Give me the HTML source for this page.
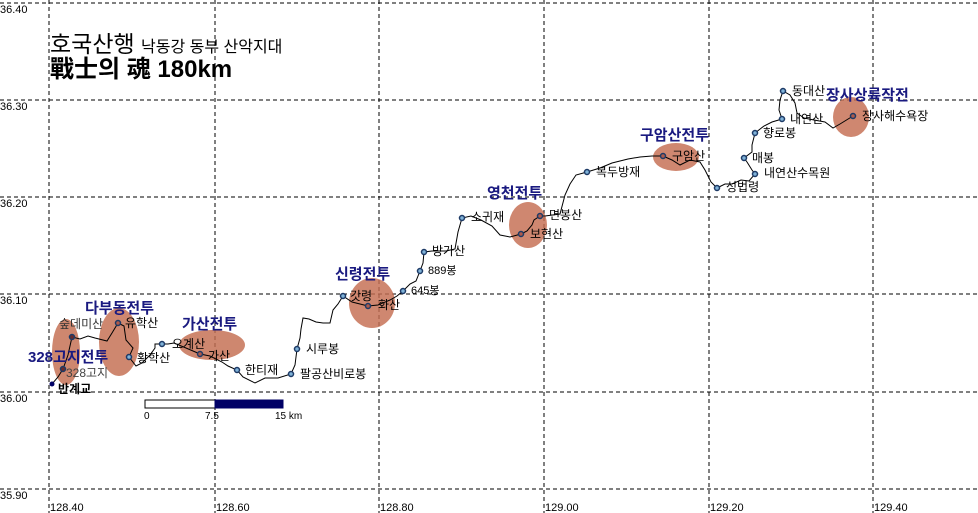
<!DOCTYPE html>
<html><head><meta charset="utf-8"><style>
body{margin:0;background:#fff;}
svg{display:block;font-family:"Liberation Sans","Noto Sans CJK KR",sans-serif;}
</style></head><body>
<svg width="978" height="513" viewBox="0 0 978 513">
<rect width="978" height="513" fill="#fff"/>
<g stroke="#000" stroke-width="1" stroke-dasharray="4,3">
<line x1="49" y1="0" x2="49" y2="513"/><line x1="215" y1="0" x2="215" y2="513"/>
<line x1="379" y1="0" x2="379" y2="513"/><line x1="544" y1="0" x2="544" y2="513"/>
<line x1="709" y1="0" x2="709" y2="513"/><line x1="873" y1="0" x2="873" y2="513"/>
<line x1="0" y1="3" x2="978" y2="3"/><line x1="0" y1="100" x2="978" y2="100"/>
<line x1="0" y1="197" x2="978" y2="197"/><line x1="0" y1="294" x2="978" y2="294"/>
<line x1="0" y1="392" x2="978" y2="392"/><line x1="0" y1="489" x2="978" y2="489"/>
</g>
<g font-size="11" fill="#000">
<text x="0" y="13">36.40</text><text x="0" y="110">36.30</text><text x="0" y="207">36.20</text>
<text x="0" y="304">36.10</text><text x="0" y="402">36.00</text><text x="0" y="499">35.90</text>
<text x="50" y="511">128.40</text><text x="216" y="511">128.60</text><text x="380" y="511">128.80</text>
<text x="545" y="511">129.00</text><text x="710" y="511">129.20</text><text x="874" y="511">129.40</text>
</g>
<text x="50" y="52" font-size="23">호국산행 <tspan font-size="16">낙동강 동부 산악지대</tspan></text>
<text x="50" y="77" font-size="24" font-weight="bold">戰士의 魂 180km</text>
<g fill="#c46d50" opacity="0.82">
<ellipse cx="66" cy="352" rx="14" ry="33"/>
<ellipse cx="119" cy="342" rx="20" ry="34"/>
<ellipse cx="212" cy="345" rx="33" ry="15"/>
<ellipse cx="372" cy="303" rx="23" ry="25"/>
<ellipse cx="528" cy="225" rx="19" ry="23"/>
<ellipse cx="676" cy="157" rx="23" ry="14"/>
<ellipse cx="851" cy="117" rx="18" ry="20"/>
</g>
<polyline fill="none" stroke="#000" stroke-width="1" points="52,384 58,377 63,369 68,355 72,337 80,339 88,336 95,338 107,341 112,333 118,323 124,326 126,340 133,348 129,357 136,366 142,363 150,355 155,348 155,344 162,344 168,344 174,343 186,348 200,354 210,356 222,362 228,366 237,370 243,377 255,383 265,378 278,378 291,374 295,365 297,349 300,338 301,329 303,318 309,319 316,322 323,323 330,323 333,310 338,304 343,296 352,302 360,304 368,306 378,305 390,300 397,296 403,291 410,284 416,281 420,271 423,263 424,252 432,251 446,251 455,249 458,232 462,218 471,216 481,220 492,226 500,235 510,237 521,234 527,231 532,225 534,220 540,216 545,216 560,214 565,195 570,184 576,175 587,172 600,168 612,163 628,159 640,157 652,156 663,156 672,160 680,165 690,160 700,162 705,170 711,182 717,188 725,184 732,184 741,180 749,181 755,174 752,170 747,162 744,158 752,152 752,145 755,133 764,126 772,122 782,119 779,110 780,100 783,91 790,95 795,103 797,113 804,118 814,120 825,122 833,128 840,124 853,116"/>
<g stroke="#1d3a66" stroke-width="1.5" fill="#7fb2d8">
<circle cx="72" cy="337" r="2.5" fill="#6b2a2a"/><circle cx="63" cy="369" r="2.5" fill="#6b2a2a"/>
<circle cx="118" cy="323" r="2.5" fill="#b05a4a"/><circle cx="129" cy="357" r="2.5"/>
<circle cx="162" cy="344" r="2.5"/><circle cx="200" cy="354" r="2.5" fill="#b05a4a"/>
<circle cx="237" cy="370" r="2.5"/><circle cx="291" cy="374" r="2.5"/><circle cx="297" cy="349" r="2.5"/>
<circle cx="343" cy="296" r="2.5"/><circle cx="368" cy="306" r="2.5" fill="#b05a4a"/>
<circle cx="403" cy="291" r="2.5"/><circle cx="420" cy="271" r="2.5"/><circle cx="424" cy="252" r="2.5"/>
<circle cx="462" cy="218" r="2.5"/><circle cx="521" cy="234" r="2.5" fill="#b05a4a"/><circle cx="540" cy="216" r="2.5" fill="#b05a4a"/>
<circle cx="587" cy="172" r="2.5"/><circle cx="663" cy="156" r="2.5" fill="#b05a4a"/>
<circle cx="717" cy="188" r="2.5"/><circle cx="755" cy="174" r="2.5"/><circle cx="744" cy="158" r="2.5"/>
<circle cx="755" cy="133" r="2.5"/><circle cx="782" cy="119" r="2.5"/><circle cx="783" cy="91" r="2.5"/>
<circle cx="853" cy="116" r="2.5" fill="#b05a4a"/>
</g>
<circle cx="52" cy="384" r="2.5" fill="#000066"/>
<g font-size="12" fill="#000">
<text x="59" y="328" fill="#333">숲데미산</text><text x="125" y="327">유학산</text>
<text x="137" y="362">황학산</text><text x="66" y="377" fill="#444">328고지</text>
<text x="58" y="393" font-weight="bold">반계교</text>
<text x="172" y="348">오계산</text><text x="208" y="360">가산</text>
<text x="245" y="374">한티재</text><text x="300" y="378">팔공산비로봉</text><text x="306" y="353">시루봉</text>
<text x="350" y="300">갓령</text><text x="378" y="309">화산</text>
<text x="411" y="294" font-size="11">645봉</text><text x="428" y="274" font-size="11">889봉</text>
<text x="432" y="255">방가산</text><text x="471" y="221">소귀재</text>
<text x="530" y="238">보현산</text><text x="549" y="219">면봉산</text>
<text x="596" y="176">복두방재</text><text x="672" y="160">구암산</text>
<text x="726" y="191">성법령</text><text x="764" y="177">내연산수목원</text><text x="752" y="162">매봉</text>
<text x="763" y="137">향로봉</text><text x="790" y="123">내연산</text><text x="792" y="95">동대산</text>
<text x="862" y="120">장사해수욕장</text>
</g>
<g font-size="15" font-weight="bold" fill="#1a1a80">
<text x="85" y="313">다부동전투</text><text x="28" y="362">328고지전투</text>
<text x="182" y="329">가산전투</text><text x="335" y="279">신령전투</text>
<text x="487" y="198">영천전투</text><text x="640" y="140">구암산전투</text>
<text x="826" y="100">장사상륙작전</text>
</g>
<rect x="145" y="400" width="70" height="8" fill="#fff" stroke="#000" stroke-width="1"/>
<rect x="215" y="400" width="68" height="8" fill="#000066" stroke="#000066" stroke-width="1"/>
<g font-size="10" fill="#000"><text x="144" y="419">0</text><text x="205" y="419">7.5</text><text x="275" y="419">15 km</text></g>
</svg>
</body></html>
